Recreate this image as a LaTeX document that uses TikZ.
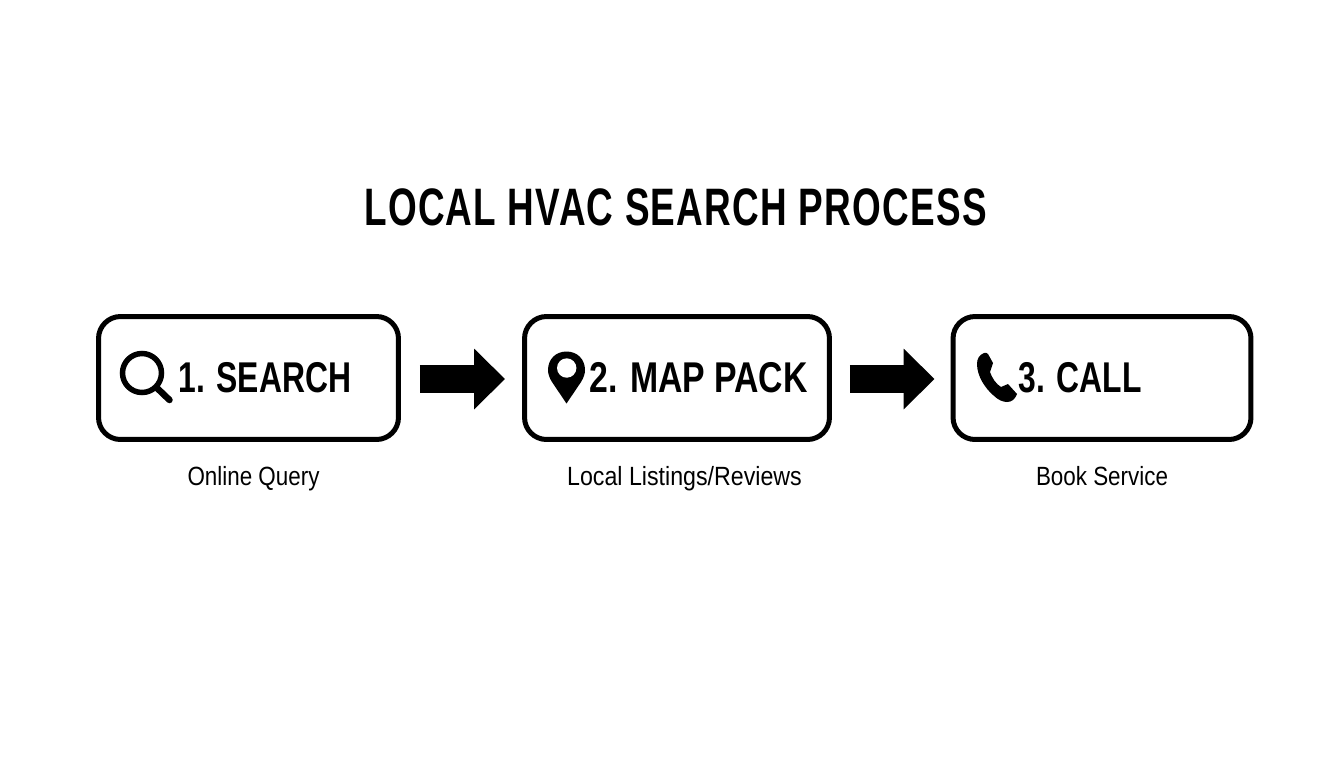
\documentclass[tikz,border=0pt]{standalone}
\usepackage{fontspec}
\usepackage{tikz}
\usetikzlibrary{arrows.meta}
\setmainfont[FakeStretch=0.85]{Liberation Sans}
\newfontfamily\titlefont[FakeStretch=0.7,LetterSpace=2.4]{Liberation Sans}
\newfontfamily\stepfont[FakeStretch=0.74]{Liberation Sans}
\newfontfamily\widestepfont[FakeStretch=0.785]{Liberation Sans}
\newfontfamily\widesubfont[FakeStretch=0.88]{Liberation Sans}
\tikzset{
    stepbox/.style={draw=black, line width=0.1cm, rounded corners=0.44cm, fill=white, inner sep=0pt},
    steptext/.style={anchor=west, inner sep=0pt, font=\fontsize{24.5}{28}\bfseries\stepfont},
    subtext/.style={anchor=base, inner sep=0pt, font=\fontsize{15}{18}\selectfont},
    flowarrow/.style={line width=0.56cm, -{Triangle[length=0.62cm, width=1.18cm]}}
}
\begin{document}
\begin{tikzpicture}[x=0.02cm, y=0.02cm]
    \useasboundingbox (0,0) rectangle (1344,-768);
    \fill [white] (0,0) rectangle (1344,-768);
    \node [inner sep=0pt, font=\fontsize{30}{34}\bfseries\titlefont] (title) at (675.5,-207) {LOCAL HVAC SEARCH PROCESS};
    % boxes
    \node [stepbox, minimum width=6cm, minimum height=2.46cm] (search) at (248.5,-378) {};
    \node [stepbox, minimum width=6.1cm, minimum height=2.46cm] (mappack) at (677,-378) {};
    \node [stepbox, minimum width=5.96cm, minimum height=2.46cm] (call) at (1102,-378) {};
    % labels
    \node [steptext] (searchtext) at (178,-378) {1. SEARCH};
    \node [steptext, font=\fontsize{24.5}{28}\bfseries\widestepfont] (mappacktext) at (589,-378) {2. MAP PACK};
    \node [steptext] (calltext) at (1018,-378) {3. CALL};
    \node [subtext] (searchsub) at (253.5,-485) {Online Query};
    \node [subtext, font=\fontsize{15}{18}\widesubfont] (mappacksub) at (684.5,-485) {Local Listings/Reviews};
    \node [subtext] (callsub) at (1102,-485) {Book Service};
    % arrows
    \draw [flowarrow, shorten <=0.38cm, shorten >=0.34cm] ([yshift=-0.02cm]search.east) -- ([yshift=-0.02cm]mappack.west);
    \draw [flowarrow, shorten <=0.36cm, shorten >=0.32cm] ([yshift=-0.02cm]mappack.east) -- ([yshift=-0.02cm]call.west);
    % magnifier
    \draw [black, line width=0.11cm] (142,-373) circle (19.5);
    \draw [black, line width=0.13cm, line cap=round] (157,-388) -- (169.5,-400);
    % pin
    \fill [black] (566.5,-403.5) -- (552,-382) .. controls (549.5,-378) and (548,-374) .. (548,-370) .. controls (548,-359) and (556,-351.5) .. (566.5,-351.5) .. controls (577,-351.5) and (585,-359) .. (585,-370) .. controls (585,-374) and (583.5,-378) .. (581,-382) -- cycle;
    \fill [white] (566.7,-368) circle (9.7);
    % phone
    \fill [black] (984,-353) .. controls (979,-355) and (977,-359) .. (977,-364) .. controls (977,-376) and (985,-388) .. (993,-395) .. controls (998,-400) and (1003,-402) .. (1007,-402) .. controls (1012,-402) and (1015,-399) .. (1017,-394) -- (1008,-384) -- (1001,-387) .. controls (996,-384) and (992,-378) .. (990,-372) -- (993,-363) -- (988,-354) .. controls (987,-353) and (986,-352.5) .. (984,-353);
\end{tikzpicture}
\end{document}
